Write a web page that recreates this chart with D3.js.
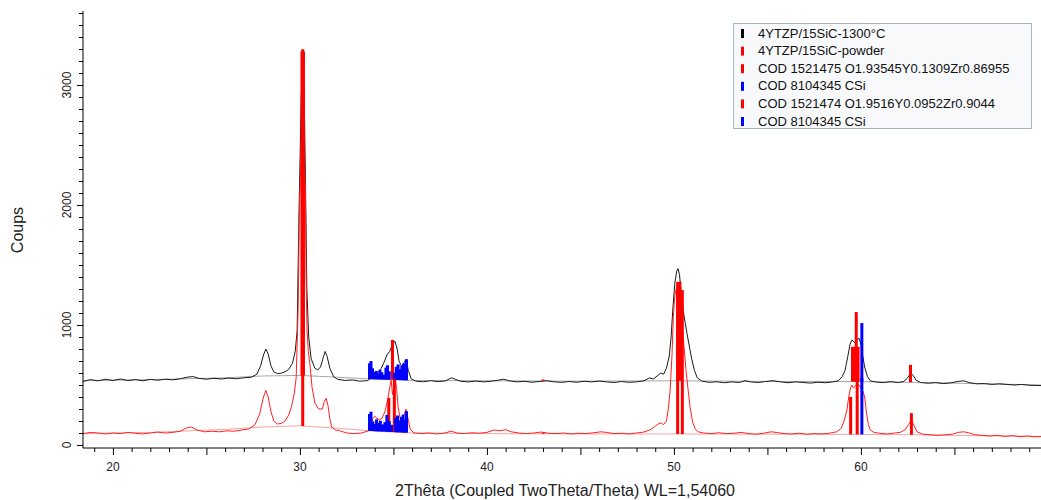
<!DOCTYPE html>
<html>
<head>
<meta charset="utf-8">
<script src="https://cdn.jsdelivr.net/npm/d3@7"></script>
<style>
  body { margin: 0; background: #fff; }
  svg { display: block; font-family: "Liberation Sans", Arial, sans-serif; }
</style>
</head>
<body>
<svg id="chart" width="1041" height="500"></svg>
<script>
// scan 1 : 4YTZP/15SiC-1300°C  [2theta, counts]
var scanSintered = [
  [18.4,530],[18.8,545],[19.2,535],[19.6,548],[20.0,538],[20.4,550],[20.8,537],[21.2,545],[21.6,535],[22.0,547],
  [22.4,540],[22.8,548],[23.2,543],[23.6,552],[24.0,566],[24.3,570],[24.6,555],[25.0,548],[25.4,556],[25.8,550],
  [26.2,558],[26.6,552],[27.0,560],[27.4,565],[27.7,590],[27.9,660],[28.05,750],[28.18,800],[28.3,760],[28.45,660],
  [28.6,610],[28.8,595],[29.0,598],[29.2,610],[29.4,630],[29.6,680],[29.75,780],[29.85,950],[29.95,1930],[30.07,2900],
  [30.15,3200],[30.23,2900],[30.3,2180],[30.37,1300],[30.47,900],[30.6,720],[30.8,640],[30.95,625],[31.1,650],[31.25,730],
  [31.35,780],[31.45,740],[31.6,640],[31.8,570],[32.0,548],[32.4,538],[32.8,542],[33.2,532],[33.6,536],[33.8,555],
  [34.0,580],[34.2,610],[34.35,640],[34.5,690],[34.65,750],[34.8,780],[34.95,840],[35.08,865],[35.2,800],[35.3,700],
  [35.45,650],[35.58,690],[35.67,715],[35.8,620],[35.95,552],[36.2,532],[36.6,527],[37.0,536],[37.4,528],[37.8,535],
  [38.1,560],[38.3,548],[38.6,531],[39.0,526],[39.4,533],[39.8,526],[40.2,531],[40.6,540],[40.9,548],[41.2,535],
  [41.6,526],[42.0,531],[42.4,523],[42.8,529],[43.2,536],[43.6,526],[44.0,522],[44.4,529],[44.8,523],[45.2,531],
  [45.6,526],[46.0,533],[46.4,526],[46.8,521],[47.2,529],[47.6,523],[48.0,526],[48.4,535],[48.7,560],[48.9,550],
  [49.1,575],[49.3,600],[49.45,590],[49.6,640],[49.75,740],[49.85,900],[49.95,1150],[50.05,1350],[50.15,1450],[50.22,1470],
  [50.3,1420],[50.4,1250],[50.5,1120],[50.6,1020],[50.7,930],[50.85,800],[50.96,710],[51.1,620],[51.25,560],[51.5,532],
  [51.9,522],[52.3,527],[52.7,519],[53.1,526],[53.5,521],[53.8,536],[54.1,526],[54.5,521],[54.9,529],[55.3,536],
  [55.7,526],[56.1,519],[56.5,526],[56.9,521],[57.3,516],[57.7,523],[58.1,519],[58.5,526],[58.8,536],[59.0,570],
  [59.15,620],[59.3,740],[59.42,840],[59.52,875],[59.62,860],[59.7,850],[59.8,880],[59.9,890],[60.0,840],[60.1,740],
  [60.2,650],[60.35,570],[60.5,535],[60.8,525],[61.2,520],[61.6,528],[62.0,520],[62.3,530],[62.5,560],[62.65,600],
  [62.8,580],[62.95,540],[63.2,520],[63.6,515],[64.0,520],[64.4,512],[64.8,518],[65.2,530],[65.5,535],[65.8,520],
  [66.2,510],[66.6,512],[67.0,505],[67.4,510],[67.8,505],[68.2,500],[68.6,505],[69.0,498],[69.63,495]
];

// scan 2 : 4YTZP/15SiC-powder
var scanPowder = [
  [18.4,95],[18.8,105],[19.2,100],[19.6,92],[20.0,100],[20.4,95],[20.8,105],[21.2,98],[21.6,92],[22.0,100],
  [22.4,108],[22.8,100],[23.2,105],[23.6,115],[23.9,140],[24.2,150],[24.5,125],[24.9,110],[25.3,115],[25.7,110],
  [26.1,118],[26.5,115],[26.9,125],[27.3,135],[27.6,170],[27.85,260],[28.05,400],[28.18,455],[28.3,400],[28.45,280],
  [28.6,200],[28.8,175],[29.0,180],[29.2,200],[29.4,250],[29.55,320],[29.7,430],[29.8,560],[29.9,1100],[29.97,1900],
  [30.07,2500],[30.15,2650],[30.23,2400],[30.29,2150],[30.33,1400],[30.38,960],[30.45,780],[30.53,680],[30.65,480],[30.8,350],
  [31.0,300],[31.2,300],[31.3,360],[31.4,390],[31.5,330],[31.6,220],[31.7,150],[31.9,125],[32.1,120],[32.5,100],
  [32.9,95],[33.3,100],[33.7,120],[33.9,220],[34.0,240],[34.1,225],[34.25,210],[34.4,225],[34.55,280],[34.7,380],
  [34.8,480],[34.88,540],[34.95,420],[35.02,480],[35.1,560],[35.17,470],[35.25,320],[35.35,230],[35.45,190],[35.55,240],
  [35.67,300],[35.78,220],[35.9,130],[36.1,100],[36.5,95],[36.9,100],[37.3,92],[37.7,98],[38.1,115],[38.4,100],
  [38.8,95],[39.2,102],[39.6,98],[40.0,105],[40.4,125],[40.7,118],[41.0,128],[41.3,110],[41.7,100],[42.1,95],
  [42.5,100],[42.9,108],[43.3,98],[43.7,95],[44.1,100],[44.5,92],[44.9,98],[45.3,95],[45.7,102],[46.1,110],
  [46.4,105],[46.8,95],[47.2,98],[47.6,92],[48.0,100],[48.4,108],[48.7,125],[48.95,150],[49.15,175],[49.3,185],
  [49.45,170],[49.6,200],[49.7,300],[49.8,460],[49.9,760],[49.97,1070],[50.05,1250],[50.15,1320],[50.25,1280],[50.35,1120],
  [50.45,980],[50.55,800],[50.65,620],[50.75,470],[50.86,320],[51.0,190],[51.15,130],[51.3,110],[51.6,100],[52.0,95],
  [52.4,102],[52.8,95],[53.2,98],[53.6,105],[54.0,95],[54.4,90],[54.8,98],[55.2,110],[55.5,104],[55.9,95],
  [56.3,92],[56.7,98],[57.1,90],[57.5,95],[57.9,92],[58.3,98],[58.7,110],[58.95,140],[59.1,200],[59.25,290],
  [59.35,400],[59.45,480],[59.52,500],[59.6,475],[59.7,490],[59.8,515],[59.9,500],[60.0,470],[60.1,450],[60.2,400],
  [60.3,265],[60.4,170],[60.5,125],[60.7,105],[61.0,98],[61.4,92],[61.8,100],[62.1,105],[62.35,125],[62.55,170],
  [62.7,210],[62.85,160],[63.0,110],[63.3,90],[63.7,85],[64.1,80],[64.5,85],[64.9,90],[65.2,105],[65.5,110],
  [65.8,100],[66.1,85],[66.5,80],[66.9,75],[67.3,80],[67.7,72],[68.1,78],[68.5,70],[68.9,75],[69.3,68],[69.63,70]
];

// fitted backgrounds
var bgSintered = [[18.4,535],[22,545],[26,560],[28,575],[30,580],[32,565],[34,548],[36,538],[40,535],[45,532],[50,535],[55,530],[60,528],[63,522],[66,512],[69.63,500]];
var bgPowder = [[18.4,95],[22,105],[26,130],[28,150],[30,160],[32,140],[34,115],[36,100],[40,95],[45,92],[50,92],[55,90],[60,88],[63,85],[66,78],[69.63,72]];

// reference patterns [2theta, height above background]
var cod1521475 = [[30.11,2700],[30.19,2700],[34.95,333],[43.0,12],[50.2,825],[50.32,825],[59.55,290],[59.65,290],[59.75,580],[59.85,290],[62.65,145]];
var cod8104345a = [[33.72,130],[33.8,150],[33.88,90],[33.98,60],[34.08,70],[34.18,50],[34.28,80],[34.38,60],[34.5,40],[34.6,100],
  [34.68,120],[34.78,70],[35.05,60],[35.15,110],[35.25,130],[35.35,90],[35.45,120],[35.55,140],[35.62,100],[35.7,175],[60.05,488]];
var cod1521474 = [[30.15,3140],[34.75,283],[35.05,441],[43.0,10],[50.2,1200],[50.45,1200],[59.45,312],[59.8,453],[62.7,180]];
var cod8104345b = [[33.72,140],[33.8,160],[33.9,80],[34.0,60],[34.1,100],[34.2,70],[34.3,90],[34.42,60],[34.55,80],[34.65,140],
  [34.78,90],[34.9,60],[35.12,120],[35.22,140],[35.3,100],[35.42,130],[35.52,150],[35.6,110],[35.7,180],[60.05,470]];

var legendNames = ["4YTZP/15SiC-1300°C", "4YTZP/15SiC-powder", "COD 1521475 O1.93545Y0.1309Zr0.86955",
  "COD 8104345 CSi", "COD 1521474 O1.9516Y0.0952Zr0.9044", "COD 8104345 CSi"];
var legendColors = ["#000000", "#ff0000", "#ff0000", "#0000ff", "#ff0000", "#0000ff"];

var xMajor = [20, 30, 40, 50, 60];
var yMajor = [0, 1000, 2000, 3000];

var svg = d3.select("#chart");
var plotLeft = 83, plotRight = 1041, plotTop = 11, plotBottom = 448;

var x = d3.scaleLinear().domain([18.4, 69.63]).range([plotLeft, plotRight]);
var y = d3.scaleLinear().domain([-25, 3617]).range([plotBottom, plotTop]);

svg.append("clipPath").attr("id", "plotClip")
  .append("rect").attr("x", plotLeft).attr("y", plotTop)
  .attr("width", plotRight - plotLeft).attr("height", plotBottom - plotTop);

var plot = svg.append("g").attr("clip-path", "url(#plotClip)");

var line = d3.line().x(function (d) { return x(d[0]); }).y(function (d) { return y(d[1]); });

// background value under a stick, linear between the fitted points
function bgAt(bg, t) {
  var i = d3.bisector(function (d) { return d[0]; }).left(bg, t);
  if (i <= 0) return bg[0][1];
  if (i >= bg.length) return bg[bg.length - 1][1];
  var a = bg[i - 1], b = bg[i];
  return a[1] + (b[1] - a[1]) * (t - a[0]) / (b[0] - a[0]);
}

// backgrounds
plot.append("path").datum(bgSintered).attr("d", line)
  .attr("fill", "none").attr("stroke", "#a6a6a6").attr("stroke-width", 1);
plot.append("path").datum(bgPowder).attr("d", line)
  .attr("fill", "none").attr("stroke", "#f4a6a6").attr("stroke-width", 1);

// scans
plot.append("path").datum(scanSintered).attr("d", line)
  .attr("fill", "none").attr("stroke", "#1a1a1a").attr("stroke-width", 1);
plot.append("path").datum(scanPowder).attr("d", line)
  .attr("fill", "none").attr("stroke", "#ff2020").attr("stroke-width", 1);

// stick patterns
function drawSticks(data, bg, color) {
  plot.append("g").selectAll("line").data(data).enter().append("line")
    .attr("x1", function (d) { return x(d[0]); })
    .attr("x2", function (d) { return x(d[0]); })
    .attr("y1", function (d) { return y(bgAt(bg, d[0])); })
    .attr("y2", function (d) { return y(bgAt(bg, d[0]) + d[1]); })
    .attr("stroke", color)
    .attr("stroke-width", 3);
}
drawSticks(cod1521475, bgSintered, "#ff0000");
drawSticks(cod8104345a, bgSintered, "#0000ff");
drawSticks(cod1521474, bgPowder, "#ff0000");
drawSticks(cod8104345b, bgPowder, "#0000ff");

// y axis
svg.append("g").attr("transform", "translate(" + plotLeft + ",0)")
  .call(d3.axisLeft(y).tickValues(d3.range(0, 3601, 100).filter(function (v) { return v % 1000 !== 0; }))
    .tickSize(4).tickSizeOuter(0).tickFormat(""))
  .call(function (g) { g.select(".domain").remove(); });
svg.append("g").attr("transform", "translate(" + plotLeft + ",0)")
  .call(d3.axisLeft(y).tickValues(yMajor).tickSize(6).tickSizeOuter(0).tickFormat(""))
  .call(function (g) { g.select(".domain").remove(); });
svg.append("line").attr("x1", plotLeft).attr("x2", plotLeft).attr("y1", plotTop).attr("y2", plotBottom)
  .attr("stroke", "#000").attr("stroke-width", 1);

svg.append("g").selectAll("text").data(yMajor).enter().append("text")
  .attr("transform", function (d) { return "translate(71," + y(d) + ") rotate(-90)"; })
  .attr("text-anchor", "middle")
  .attr("font-size", 12)
  .attr("fill", "#222")
  .text(function (d) { return d; });

// x axis
svg.append("g").attr("transform", "translate(0," + plotBottom + ")")
  .call(d3.axisBottom(x).tickValues(d3.range(19, 70, 1).filter(function (v) { return v % 5 !== 0; }))
    .tickSize(4).tickSizeOuter(0).tickFormat(""))
  .call(function (g) { g.select(".domain").remove(); });
svg.append("g").attr("transform", "translate(0," + plotBottom + ")")
  .call(d3.axisBottom(x).tickValues(d3.range(20, 70, 5)).tickSize(7).tickSizeOuter(0).tickFormat(""))
  .call(function (g) { g.select(".domain").remove(); });
svg.append("line").attr("x1", plotLeft).attr("x2", plotRight).attr("y1", plotBottom).attr("y2", plotBottom)
  .attr("stroke", "#000").attr("stroke-width", 1);

svg.append("g").selectAll("text").data(xMajor).enter().append("text")
  .attr("x", function (d) { return x(d); })
  .attr("y", 471)
  .attr("text-anchor", "middle")
  .attr("font-size", 12)
  .attr("fill", "#222")
  .text(function (d) { return d; });

// axis titles
svg.append("text")
  .attr("transform", "translate(23,230) rotate(-90)")
  .attr("text-anchor", "middle")
  .attr("font-size", 16)
  .attr("fill", "#222")
  .text("Coups");

svg.append("text")
  .attr("x", 565)
  .attr("y", 496)
  .attr("text-anchor", "middle")
  .attr("font-size", 16)
  .attr("fill", "#222")
  .text("2Thêta (Coupled TwoTheta/Theta) WL=1,54060");

// legend
var legend = svg.append("g");
legend.append("rect")
  .attr("x", 733.5).attr("y", 23.5).attr("width", 298).attr("height", 105)
  .attr("fill", "#f8f9fb").attr("stroke", "#a9b2c3").attr("stroke-width", 1);

var rows = legend.selectAll("g.row").data(legendNames).enter().append("g")
  .attr("class", "row")
  .attr("transform", function (d, i) { return "translate(0," + (33 + i * 17.6) + ")"; });
rows.append("rect")
  .attr("x", 741).attr("y", -4).attr("width", 3).attr("height", 9)
  .attr("fill", function (d, i) { return legendColors[i]; });
rows.append("text")
  .attr("x", 758).attr("y", 4.5)
  .attr("font-size", 13)
  .attr("fill", "#111")
  .text(function (d) { return d; });
</script>
</body>
</html>
